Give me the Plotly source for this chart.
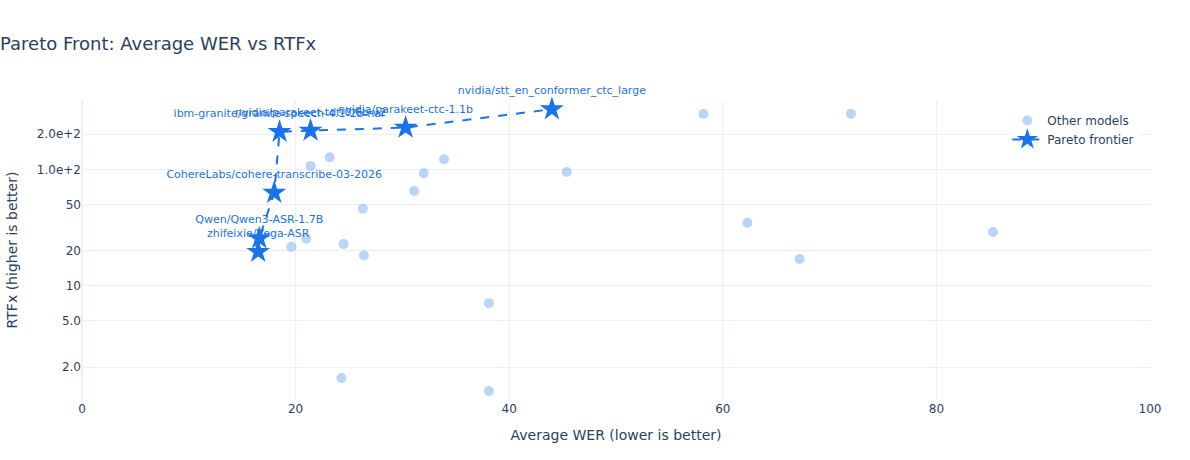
import plotly.graph_objects as go

# Other (dominated) models
other_wer = [21.4, 23.2, 33.9, 32.0, 45.4, 31.1, 26.3, 21.0, 19.6, 24.5, 26.4,
             58.2, 72.0, 62.3, 67.2, 85.3, 38.1, 24.3, 38.1]
other_rtfx = [107, 127, 122, 92.5, 94.8, 65.2, 45.9, 25.4, 21.7, 22.8, 18.2,
              299, 299, 34.7, 17.0, 29.0, 7.1, 1.62, 1.25]

# Pareto frontier models
pareto_names = [
    "zhifeixie/Vega-ASR",
    "Qwen/Qwen3-ASR-1.7B",
    "CohereLabs/cohere-transcribe-03-2026",
    "ibm-granite/granite-speech-4.1-2b-nar",
    "nvidia/parakeet-tdt-0.6b-v2",
    "nvidia/parakeet-ctc-1.1b",
    "nvidia/stt_en_conformer_ctc_large",
]
pareto_wer = [16.5, 16.6, 18.0, 18.5, 21.4, 30.3, 44.0]
pareto_rtfx = [19.6, 25.6, 63, 210, 215, 228, 328]

ytick_vals = [2, 5, 10, 20, 50, 100, 200]
xtick_vals = [0, 20, 40, 60, 80, 100]

BLUE = "#1a73e8"
FONT = "Verdana, DejaVu Sans, sans-serif"

fig = go.Figure()
fig.add_trace(go.Scatter(
    x=other_wer, y=other_rtfx, mode="markers", name="Other models",
    marker=dict(size=10, color=BLUE, opacity=0.3),
))
fig.add_trace(go.Scatter(
    x=pareto_wer, y=pareto_rtfx, mode="lines+markers+text", name="Pareto frontier",
    text=pareto_names, textposition="top center", cliponaxis=False,
    textfont=dict(size=11, color=BLUE, family=FONT),
    marker=dict(size=18, color=BLUE, symbol="star"),
    line=dict(color=BLUE, width=2, dash="dash"),
))

fig.update_layout(
    template="plotly_white",
    width=1190, height=460,
    margin=dict(l=80, r=40, t=100, b=60),
    font=dict(family=FONT, size=12, color="#2a3f5f"),
    title=dict(text="Pareto Front: Average WER vs RTFx", x=0, xref="container",
               xanchor="left", y=0.904, yanchor="middle",
               font=dict(size=18, family=FONT)),
    legend=dict(x=0.99, xanchor="right", y=0.98, yanchor="top",
                bgcolor="rgba(255,255,255,1)"),
    showlegend=True,
)
fig.update_xaxes(title_text="Average WER (lower is better)", range=[0, 100],
                 tickvals=xtick_vals)
fig.update_yaxes(title_text="RTFx (higher is better)", type="log",
                 range=[0.020, 2.595], tickvals=ytick_vals, tickformat=".2g")

fig.write_html("out.html", config={"displayModeBar": False},
               post_script="document.body.style.margin='0px';")
